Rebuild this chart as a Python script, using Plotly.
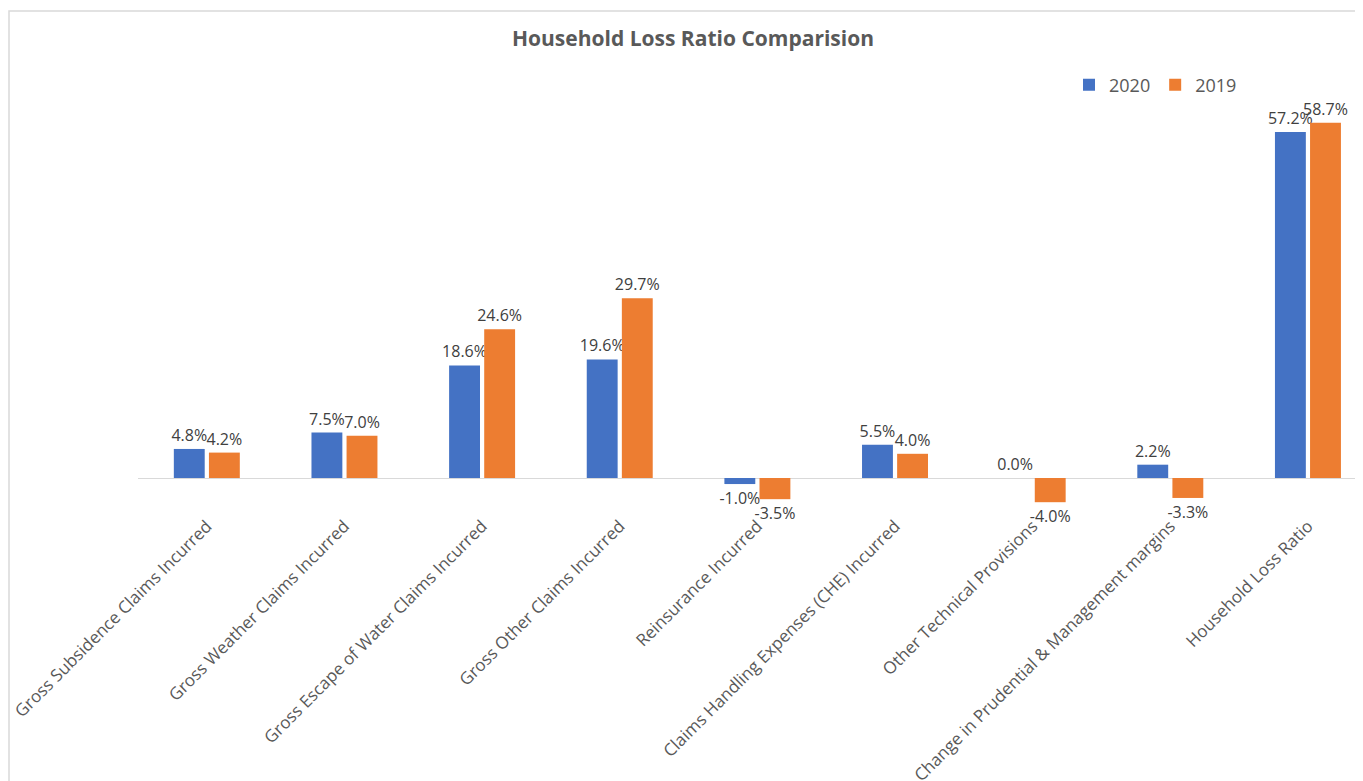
import plotly.graph_objects as go

categories = [
    "Gross Subsidence Claims Incurred",
    "Gross Weather Claims Incurred",
    "Gross Escape of Water Claims Incurred",
    "Gross Other Claims Incurred",
    "Reinsurance Incurred",
    "Claims Handling Expenses (CHE) Incurred",
    "Other Technical Provisions",
    "Change in Prudential & Management margins",
    "Household Loss Ratio",
]
values_2020 = [4.8, 7.5, 18.6, 19.6, -1.0, 5.5, 0.0, 2.2, 57.2]
values_2019 = [4.2, 7.0, 24.6, 29.7, -3.5, 4.0, -4.0, -3.3, 58.7]

# page body has an 8px margin, so the figure is sized/offset accordingly
OFF = 8
W, H = 1363 - OFF, 781 - OFF
L, R, T = 138 - OFF, 0, 100 - OFF
B = H - (512 - OFF)
PW, PH = W - L - R, H - T - B

fig = go.Figure()
for name, vals, col in [("2020", values_2020, "#4472C4"), ("2019", values_2019, "#ED7D31")]:
    fig.add_trace(go.Bar(
        x=categories, y=vals, name=name,
        marker=dict(color=col, line=dict(width=0)),
        text=[f"{v:.1f}%" for v in vals],
        textposition="outside",
        constraintext="none",
        textfont=dict(family="Open Sans", size=16, color="#404040"),
        cliponaxis=False,
    ))

fig.update_layout(
    width=W, height=H,
    margin=dict(l=L, r=R, t=T, b=B),
    paper_bgcolor="white", plot_bgcolor="white",
    barmode="group", bargap=0.49, bargroupgap=0.12,
    title=dict(text="<b>Household Loss Ratio Comparision</b>", x=(693 - OFF) / W, xanchor="center",
               y=1 - (39 - OFF) / H, yanchor="middle",
               font=dict(family="Open Sans", size=21, color="#595959")),
    legend=dict(orientation="h", x=(1069 - OFF - L) / PW, xanchor="left",
                y=((512 - OFF) - (85 - OFF)) / PH, yanchor="middle",
                font=dict(family="Open Sans", size=18, color="#595959"),
                itemwidth=30, bgcolor="rgba(0,0,0,0)"),
    showlegend=True,
)
fig.update_xaxes(range=[-0.5, 8.4], tickangle=-45, showline=False, showgrid=False,
                 ticks="", tickfont=dict(family="Open Sans", size=17, color="#595959"),
                 automargin=False)
fig.update_yaxes(range=[-5.62, 62.48], showticklabels=False, showgrid=False,
                 zeroline=True, zerolinecolor="#d9d9d9", zerolinewidth=1, automargin=False)

fig.add_shape(type="rect", xref="paper", yref="paper",
              x0=(9 - OFF - L) / PW, x1=1.2, y0=-2, y1=((512 - OFF) - (11 - OFF)) / PH,
              line=dict(color="#d9d9d9", width=1.5), fillcolor="rgba(0,0,0,0)", layer="below")

fig.write_html("out.html")
